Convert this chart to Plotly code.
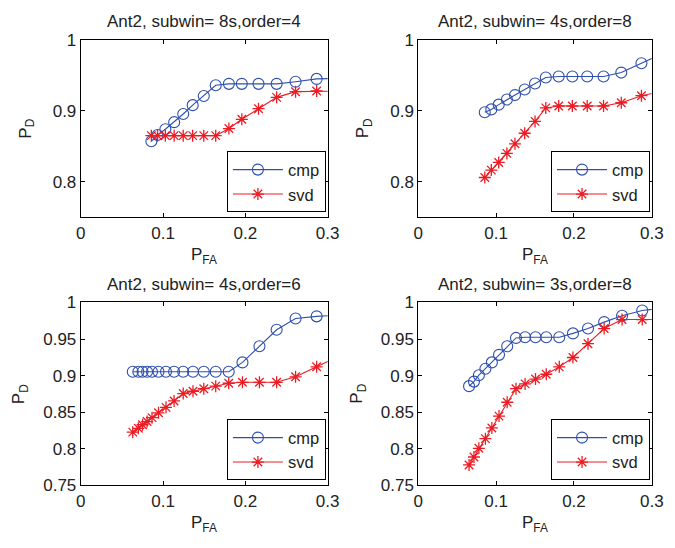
import plotly.graph_objects as go

# ---------------- data ----------------
titles = ["Ant2, subwin= 8s,order=4", "Ant2, subwin= 4s,order=8",
          "Ant2, subwin= 4s,order=6", "Ant2, subwin= 3s,order=8"]
series_names = ["cmp", "svd"]

x_tl = [0.0858, 0.0933, 0.1028, 0.1135, 0.1245, 0.136, 0.1495, 0.164, 0.18,
        0.1957, 0.216, 0.238, 0.261, 0.2866, 0.32]
cmp_tl = [0.857, 0.866, 0.874, 0.884, 0.8955, 0.908, 0.921, 0.936, 0.938,
          0.938, 0.938, 0.938, 0.941, 0.945, 0.946]
svd_tl = [0.865, 0.865, 0.865, 0.865, 0.865, 0.865, 0.865, 0.865, 0.875,
          0.888, 0.903, 0.919, 0.927, 0.928, 0.928]

x_tr = [0.0854, 0.0938, 0.1033, 0.1138, 0.1242, 0.1367, 0.15, 0.1638, 0.1804,
        0.1979, 0.217, 0.238, 0.2608, 0.2867, 0.32]
cmp_tr = [0.898, 0.902, 0.9087, 0.9159, 0.9222, 0.930, 0.9385, 0.947, 0.9484,
          0.9484, 0.9484, 0.9484, 0.9539, 0.967, 0.984]
svd_tr = [0.806, 0.8164, 0.8272, 0.840, 0.8535, 0.8684, 0.8851, 0.9041, 0.9068,
          0.9068, 0.9068, 0.9068, 0.9114, 0.9213, 0.929]

x_bl = [0.0632, 0.070, 0.0751, 0.0806, 0.0866, 0.0945, 0.1036, 0.1134, 0.1245,
        0.1364, 0.1495, 0.164, 0.1798, 0.1965, 0.2171, 0.238, 0.261, 0.2866, 0.32]
cmp_bl = [0.9053, 0.9053, 0.9053, 0.9053, 0.9053, 0.9053, 0.9053, 0.9053, 0.9053,
          0.9053, 0.9053, 0.9053, 0.9053, 0.918, 0.940, 0.9626, 0.978, 0.981, 0.983]
svd_bl = [0.8226, 0.8278, 0.8327, 0.8371, 0.8424, 0.849, 0.8565, 0.8653, 0.8754,
          0.8785, 0.882, 0.8855, 0.8895, 0.8908, 0.8908, 0.8908, 0.8983, 0.912, 0.93]

x_br = [0.0652, 0.0715, 0.0778, 0.0862, 0.0945, 0.1037, 0.1142, 0.1255, 0.1372,
        0.1506, 0.1644, 0.1811, 0.1987, 0.218, 0.2388, 0.2618, 0.2877, 0.32]
cmp_br = [0.8855, 0.8917, 0.9005, 0.9093, 0.918, 0.9283, 0.940, 0.9515, 0.9524,
          0.9524, 0.9524, 0.9524, 0.9577, 0.9643, 0.9731, 0.9819, 0.989, 0.993]
svd_br = [0.7777, 0.7886, 0.8005, 0.8137, 0.8283, 0.8445, 0.8635, 0.882, 0.8886,
          0.8952, 0.9018, 0.9119, 0.9247, 0.9436, 0.9643, 0.9766, 0.9766, 0.9766]

x_ticks = [0, 0.1, 0.2, 0.3]
x_ticklabels = ["0", "0.1", "0.2", "0.3"]
y_ticks_top = [0.8, 0.9, 1.0]
y_ticklabels_top = ["0.8", "0.9", "1"]
y_ticks_bot = [0.75, 0.8, 0.85, 0.9, 0.95, 1.0]
y_ticklabels_bot = ["0.75", "0.8", "0.85", "0.9", "0.95", "1"]

panels = [(x_tl, cmp_tl, svd_tl), (x_tr, cmp_tr, svd_tr),
          (x_bl, cmp_bl, svd_bl), (x_br, cmp_br, svd_br)]

# ---------------- layout geometry (pixels) ----------------
W, H = 675, 548
FONT = "Liberation Sans, Arial, Helvetica, sans-serif"
FS = 17
LFS = 16.5
TXT = "#222222"
BLUE = "#2F4FAE"
RED = "#EC1C24"

# panel boxes: (left, right, top, bottom) in px
boxes = [(77.7, 331.0, 32.0, 215.7), (424.0, 663.5, 32.0, 215.7),
         (77.7, 331.0, 304.0, 493.3), (424.0, 663.5, 304.0, 493.3)]

fig = go.Figure()
layout = dict(width=W, height=H, margin=dict(l=0, r=0, t=0, b=0),
              paper_bgcolor="white", plot_bgcolor="white",
              font=dict(family=FONT, size=FS, color=TXT),
              showlegend=True)
annotations = []

for i, ((l, r, t, b), (xs, c, s)) in enumerate(zip(boxes, panels)):
    k = "" if i == 0 else str(i + 1)
    leg = "legend" if i == 0 else "legend" + str(i + 1)
    fig.add_trace(go.Scatter(x=xs, y=c, mode="lines+markers", name=series_names[0],
                             xaxis="x" + k, yaxis="y" + k, legend=leg,
                             line=dict(color=BLUE, width=1.1),
                             marker=dict(symbol="circle-open", size=11,
                                         color=BLUE, line=dict(width=1.1))))
    fig.add_trace(go.Scatter(x=xs, y=s, mode="lines+markers", name=series_names[1],
                             xaxis="x" + k, yaxis="y" + k, legend=leg,
                             line=dict(color=RED, width=1.1),
                             marker=dict(symbol="asterisk-open", size=10,
                                         color=RED, line=dict(width=1.3, color=RED))))
    top = i < 2
    ax_common = dict(showline=True, linecolor="#000000", linewidth=1, mirror="allticks",
                     ticks="inside", ticklen=4, tickcolor="#000000", showgrid=False,
                     zeroline=False, tickfont=dict(family=FONT, size=FS, color=TXT))
    layout["xaxis" + k] = dict(domain=[l / W, r / W], anchor="y" + k, range=[0, 0.3],
                               tickvals=x_ticks, ticktext=x_ticklabels, **ax_common)
    layout["yaxis" + k] = dict(domain=[1 - b / H, 1 - t / H], anchor="x" + k,
                               range=[0.75, 1.0],
                               tickvals=y_ticks_top if top else y_ticks_bot,
                               ticktext=y_ticklabels_top if top else y_ticklabels_bot,
                               **ax_common)
    layout[leg] = dict(x=(r - 1.8) / W, y=1 - (b - 5) / H, xanchor="right", yanchor="bottom",
                       bgcolor="white", bordercolor="#000000", borderwidth=1,
                       font=dict(family=FONT, size=LFS, color=TXT),
                       itemwidth=50, tracegroupgap=0)
    # title
    annotations.append(dict(text=titles[i], x=(l + r) / 2 / W, y=1 - (t - 19) / H,
                            xref="paper", yref="paper", xanchor="center", yanchor="middle",
                            showarrow=False, font=dict(family=FONT, size=FS, color=TXT)))
    # x label
    annotations.append(dict(text="P<sub>FA</sub>", x=(l + r) / 2 / W, y=1 - (b + 40) / H,
                            xref="paper", yref="paper", xanchor="center", yanchor="middle",
                            showarrow=False, font=dict(family=FONT, size=FS, color=TXT)))
    # y label
    yl_off = 56 if top else 62
    annotations.append(dict(text="P<sub>D</sub>", x=(l - yl_off) / W, y=1 - (t + b) / 2 / H,
                            xref="paper", yref="paper", xanchor="center", yanchor="middle",
                            textangle=-90, showarrow=False,
                            font=dict(family=FONT, size=FS, color=TXT)))

layout["annotations"] = annotations
fig.update_layout(**layout)
fig.write_html("out.html")
